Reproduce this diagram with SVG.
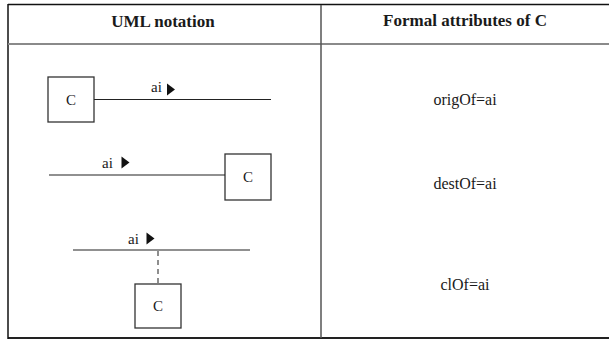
<svg xmlns="http://www.w3.org/2000/svg" width="609" height="340" viewBox="0 0 609 340">
  <style>
    .head { font-family: "Liberation Serif", "Times New Roman", serif; font-size: 17px; font-weight: bold; fill: #1a1a1a; text-anchor: middle; }
    .attr { font-family: "Liberation Serif", "Times New Roman", serif; font-size: 16px; fill: #1a1a1a; text-anchor: middle; }
    .lbl { font-family: "Liberation Serif", "Times New Roman", serif; font-size: 15px; fill: #1a1a1a; }
    .cls { fill: #ffffff; stroke: #333333; stroke-width: 1.3; }
    .cname { font-family: "Liberation Serif", "Times New Roman", serif; font-size: 15px; fill: #1a1a1a; text-anchor: middle; }
    .assoc { stroke: #222222; stroke-width: 1.2; fill: none; }
    .dash { stroke: #444444; stroke-width: 1.2; stroke-dasharray: 5 4; fill: none; }
    .dir { fill: #111111; }
  </style>

  <!-- table frame -->
  <g id="table">
    <line x1="8" y1="4.5" x2="609" y2="4.5" stroke="#111111" stroke-width="1.5"/>
    <line x1="8" y1="338" x2="609" y2="338" stroke="#222222" stroke-width="1.8"/>
    <line x1="8" y1="4" x2="8" y2="339" stroke="#111111" stroke-width="1.5"/>
    <line x1="8" y1="44" x2="609" y2="44" stroke="#8a8a8a" stroke-width="2"/>
    <line x1="321" y1="5" x2="321" y2="338" stroke="#555555" stroke-width="1.5"/>
    <text class="head" x="163" y="27">UML notation</text>
    <text class="head" x="465" y="26">Formal attributes of C</text>
  </g>

  <!-- class nodes -->
  <g id="c-orig">
    <rect class="cls" x="48" y="77" width="46" height="45"/>
    <text class="cname" x="71" y="104.5">C</text>
  </g>
  <g id="c-dest">
    <rect class="cls" x="225" y="154" width="46" height="46"/>
    <text class="cname" x="248" y="182">C</text>
  </g>
  <g id="c-class">
    <rect class="cls" x="135" y="284" width="46" height="44"/>
    <text class="cname" x="158" y="311">C</text>
  </g>

  <!-- associations with name and direction -->
  <g id="connectors">
    <line class="assoc" x1="94" y1="99.5" x2="271" y2="99.5"/>
    <text class="lbl" x="151" y="92">ai</text>
    <polygon class="dir" points="167,83.5 175,89.5 167,95.5"/>

    <line class="assoc" x1="49" y1="175" x2="225" y2="175"/>
    <text class="lbl" x="102" y="168">ai</text>
    <polygon class="dir" points="121.5,156.5 129.5,162.5 121.5,168.5"/>

    <line class="assoc" x1="73" y1="250" x2="250" y2="250"/>
    <text class="lbl" x="128" y="244">ai</text>
    <polygon class="dir" points="146.5,232.5 154.5,238.5 146.5,244.5"/>
    <line class="dash" x1="158" y1="251" x2="158" y2="284"/>
  </g>

  <!-- formal attributes -->
  <g id="attributes">
    <text class="attr" x="465" y="105">origOf=ai</text>
    <text class="attr" x="465" y="189">destOf=ai</text>
    <text class="attr" x="465" y="290">clOf=ai</text>
  </g>
</svg>
